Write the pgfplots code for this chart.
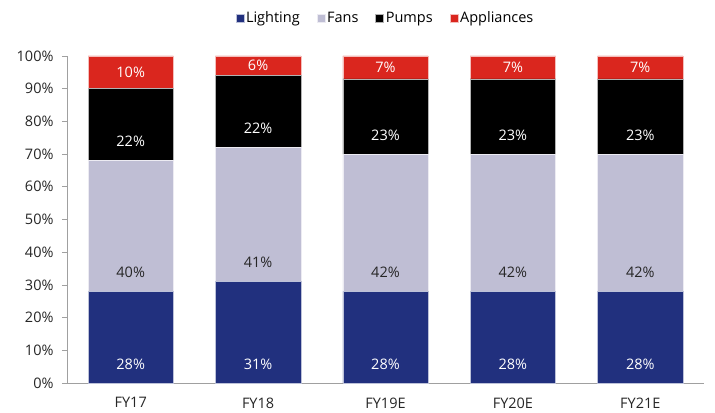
\documentclass[border=0pt]{standalone}
\usepackage{pgfplots}
\pgfplotsset{compat=1.18}
\usepackage{fontspec}
\setmainfont{Open Sans}

\definecolor{lighting}{RGB}{33,48,126}
\definecolor{fans}{RGB}{191,190,212}
\definecolor{pumps}{RGB}{0,0,0}
\definecolor{appliances}{RGB}{218,38,30}
\definecolor{axisgray}{RGB}{160,160,160}

\newcommand{\chartfont}{\fontsize{14.5bp}{17bp}\selectfont}
\tikzset{seglabel/.style={font=\chartfont}}

\begin{document}
\begin{tikzpicture}
\path[use as bounding box] (-67bp,-30bp) rectangle (648bp,383bp);
\begin{axis}[
  at={(0,0)}, anchor=south west,
  scale only axis,
  width=637bp, height=327bp,
  ybar stacked,
  bar width=0.67,
  xmin=-0.5, xmax=4.5,
  ymin=0, ymax=100,
  xtick={0,1,2,3,4},
  xticklabels={FY17,FY18,FY19E,FY20E,FY21E},
  extra x ticks={-0.5,0.5,1.5,2.5,3.5,4.5},
  extra x tick labels={},
  extra x tick style={major tick length=5bp, tick style={axisgray, line width=0.8pt}},
  ytick={0,10,...,100},
  yticklabel={\pgfmathprintnumber{\tick}\%},
  /pgf/number format/assume math mode=true,
  axis x line*=bottom,
  axis y line*=left,
  axis line style={axisgray, line width=0.8pt},
  major tick length=5bp,
  xtick style={draw=none},
  ytick style={axisgray, line width=0.8pt},
  tick align=outside,
  tick label style={font=\chartfont, text=black!85},
  xticklabel style={yshift=-6bp},
  yticklabel style={xshift=-5bp},
  legend style={at={(0.5,1)}, anchor=center, yshift=38bp, draw=none,
    font=\chartfont,
    /tikz/every odd column/.style={column sep=0bp},
    /tikz/every even column/.style={column sep=15bp}},
  legend columns=4,
  legend image code/.code={\fill[#1] (0bp,-4bp) rectangle (8bp,4bp);},
  clip=false,
]
\addplot[fill=lighting, draw=white!70!lighting, line width=0.4pt] coordinates {(0,28) (1,31) (2,28) (3,28) (4,28)};
\addplot[fill=fans, draw=white!70!fans, line width=0.4pt] coordinates {(0,40) (1,41) (2,42) (3,42) (4,42)};
\addplot[fill=pumps, draw=white!70!pumps, line width=0.4pt] coordinates {(0,22) (1,22) (2,23) (3,23) (4,23)};
\addplot[fill=appliances, draw=white!70!appliances, line width=0.4pt] coordinates {(0,10) (1,6) (2,7) (3,7) (4,7)};
\legend{Lighting,Fans,Pumps,Appliances}

% anchor points for the segment labels, a little above each segment's base
\coordinate (L0) at (axis cs:0,5.8);
\coordinate (L1) at (axis cs:1,5.8);
\coordinate (L2) at (axis cs:2,5.8);
\coordinate (L3) at (axis cs:3,5.8);
\coordinate (L4) at (axis cs:4,5.8);
\coordinate (F0) at (axis cs:0,33.8);
\coordinate (F1) at (axis cs:1,36.8);
\coordinate (F2) at (axis cs:2,33.8);
\coordinate (F3) at (axis cs:3,33.8);
\coordinate (F4) at (axis cs:4,33.8);
\coordinate (P0) at (axis cs:0,73.8);
\coordinate (P1) at (axis cs:1,77.8);
\coordinate (P2) at (axis cs:2,75.8);
\coordinate (P3) at (axis cs:3,75.8);
\coordinate (P4) at (axis cs:4,75.8);
\coordinate (A0) at (axis cs:0,95);
\coordinate (A1) at (axis cs:1,97);
\coordinate (A2) at (axis cs:2,96.5);
\coordinate (A3) at (axis cs:3,96.5);
\coordinate (A4) at (axis cs:4,96.5);
\end{axis}

\node[seglabel, white] at (L0) {28\%};
\node[seglabel, white] at (L1) {31\%};
\node[seglabel, white] at (L2) {28\%};
\node[seglabel, white] at (L3) {28\%};
\node[seglabel, white] at (L4) {28\%};
\node[seglabel, black!85] at (F0) {40\%};
\node[seglabel, black!85] at (F1) {41\%};
\node[seglabel, black!85] at (F2) {42\%};
\node[seglabel, black!85] at (F3) {42\%};
\node[seglabel, black!85] at (F4) {42\%};
\node[seglabel, white] at (P0) {22\%};
\node[seglabel, white] at (P1) {22\%};
\node[seglabel, white] at (P2) {23\%};
\node[seglabel, white] at (P3) {23\%};
\node[seglabel, white] at (P4) {23\%};
\node[seglabel, white] at (A0) {10\%};
\node[seglabel, white] at (A1) {6\%};
\node[seglabel, white] at (A2) {7\%};
\node[seglabel, white] at (A3) {7\%};
\node[seglabel, white] at (A4) {7\%};
\end{tikzpicture}
\end{document}
